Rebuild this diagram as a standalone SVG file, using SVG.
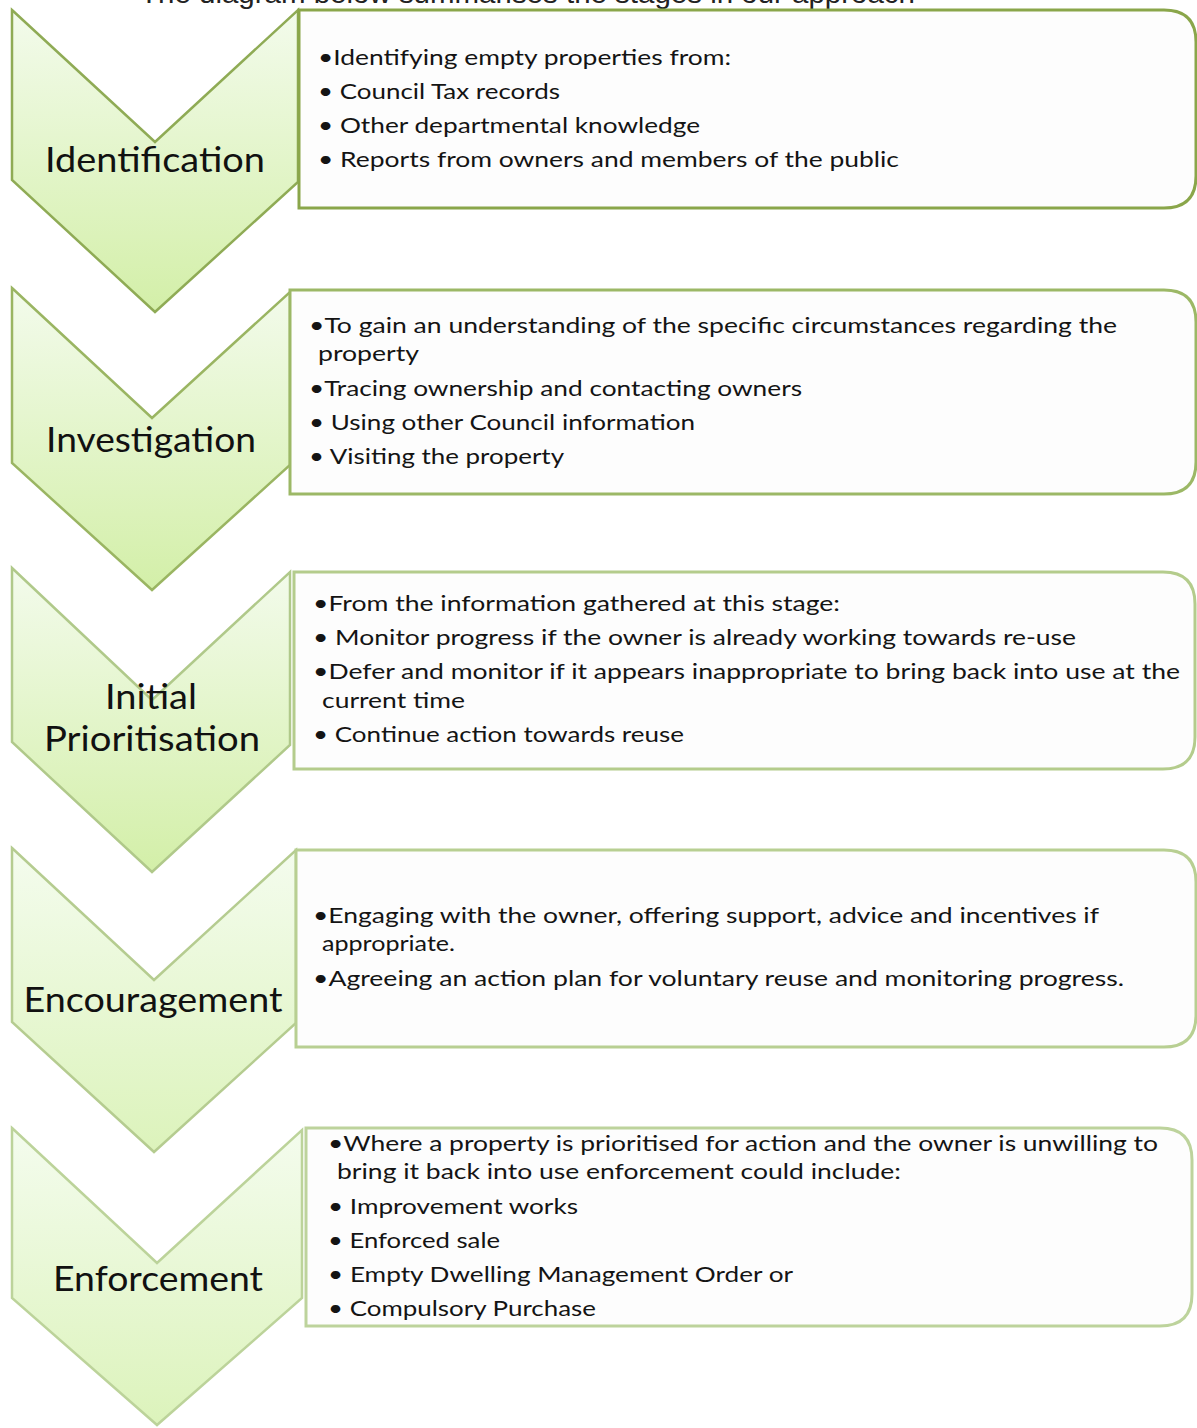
<svg xmlns="http://www.w3.org/2000/svg" width="1197" height="1428" viewBox="0 0 1197 1428">
<defs>
<linearGradient id="gA" x1="0" y1="0" x2="0" y2="1">
<stop offset="0" stop-color="#f3fbec"/>
<stop offset="1" stop-color="#d3efa8"/>
</linearGradient>
<linearGradient id="gB" x1="0" y1="0" x2="0" y2="1">
<stop offset="0" stop-color="#f4fcee"/>
<stop offset="1" stop-color="#dcf3bb"/>
</linearGradient>
<style>
.lbl{font-family:Lato,"Open Sans",sans-serif;font-size:35px;fill:#111;text-anchor:middle}
.t{font-family:Lato,"Open Sans",sans-serif;font-size:22px;fill:#141414}
.box{fill:#fdfdfd;stroke-width:3}
.chev{stroke-width:2.5;stroke-linejoin:miter}
.top{font-family:"Liberation Sans",Arial,sans-serif;font-size:27px;fill:#222}
</style>
</defs>
<rect width="1197" height="1428" fill="#ffffff"/>
<text class="top" x="140" y="3" textLength="775" lengthAdjust="spacingAndGlyphs">The diagram below summarises the stages in our approach</text>

<g id="identification">
<path class="chev" d="M12 10 L155 142 L298 10 L298 182 L155 312 L12 180 Z" fill="url(#gA)" stroke="#8fab55"/>
<text class="lbl" x="155" y="172" textLength="220" lengthAdjust="spacingAndGlyphs">Identification</text>
<path class="box" d="M299 10 H1164 Q1196 10 1196 42 V176 Q1196 208 1164 208 H299 Z" stroke="#8aa64a"/>
<text class="t" x="318" y="65" textLength="413" lengthAdjust="spacingAndGlyphs">•Identifying empty properties from:</text>
<text class="t" x="318" y="99" textLength="242" lengthAdjust="spacingAndGlyphs">• Council Tax records</text>
<text class="t" x="318" y="133" textLength="382" lengthAdjust="spacingAndGlyphs">• Other departmental knowledge</text>
<text class="t" x="318" y="167" textLength="581" lengthAdjust="spacingAndGlyphs">• Reports from owners and members of the public</text>
</g>

<g id="investigation">
<path class="chev" d="M12 288 L152 418 L290 292 L290 465 L152 590 L12 463 Z" fill="url(#gA)" stroke="#9ab562"/>
<text class="lbl" x="151" y="452" textLength="210" lengthAdjust="spacingAndGlyphs">Investigation</text>
<path class="box" d="M290 290 H1164 Q1196 290 1196 322 V462 Q1196 494 1164 494 H290 Z" stroke="#9cb866"/>
<text class="t" x="309" y="333" textLength="808" lengthAdjust="spacingAndGlyphs">•To gain an understanding of the specific circumstances regarding the</text>
<text class="t" x="318" y="361" textLength="101" lengthAdjust="spacingAndGlyphs">property</text>
<text class="t" x="309" y="396" textLength="493" lengthAdjust="spacingAndGlyphs">•Tracing ownership and contacting owners</text>
<text class="t" x="309" y="430" textLength="386" lengthAdjust="spacingAndGlyphs">• Using other Council information</text>
<text class="t" x="309" y="464" textLength="255" lengthAdjust="spacingAndGlyphs">• Visiting the property</text>
</g>

<g id="initial-prioritisation">
<path class="chev" d="M12 568 L152 700 L290 572 L290 745 L152 872 L12 742 Z" fill="url(#gA)" stroke="#b0c98a"/>
<text class="lbl" x="151" y="709" textLength="92" lengthAdjust="spacingAndGlyphs">Initial</text>
<text class="lbl" x="152" y="751" textLength="216" lengthAdjust="spacingAndGlyphs">Prioritisation</text>
<path class="box" d="M294 572 H1163 Q1195 572 1195 604 V737 Q1195 769 1163 769 H294 Z" stroke="#b4cc8c"/>
<text class="t" x="313" y="611" textLength="527" lengthAdjust="spacingAndGlyphs">•From the information gathered at this stage:</text>
<text class="t" x="313" y="645" textLength="763" lengthAdjust="spacingAndGlyphs">• Monitor progress if the owner is already working towards re-use</text>
<text class="t" x="313" y="679" textLength="867" lengthAdjust="spacingAndGlyphs">•Defer and monitor if it appears inappropriate to bring back into use at the</text>
<text class="t" x="322" y="708" textLength="143" lengthAdjust="spacingAndGlyphs">current time</text>
<text class="t" x="313" y="742" textLength="371" lengthAdjust="spacingAndGlyphs">• Continue action towards reuse</text>
</g>

<g id="encouragement">
<path class="chev" d="M12 848 L154 980 L296 850 L296 1023 L154 1152 L12 1022 Z" fill="url(#gB)" stroke="#b5cc90"/>
<text class="lbl" x="153" y="1012" textLength="259" lengthAdjust="spacingAndGlyphs">Encouragement</text>
<path class="box" d="M296 850 H1164 Q1196 850 1196 882 V1015 Q1196 1047 1164 1047 H296 Z" stroke="#b8cf92"/>
<text class="t" x="313" y="923" textLength="786" lengthAdjust="spacingAndGlyphs">•Engaging with the owner, offering support, advice and incentives if</text>
<text class="t" x="322" y="951" textLength="133" lengthAdjust="spacingAndGlyphs">appropriate.</text>
<text class="t" x="313" y="986" textLength="811" lengthAdjust="spacingAndGlyphs">•Agreeing an action plan for voluntary reuse and monitoring progress.</text>
</g>

<g id="enforcement">
<path class="chev" d="M12 1128 L157 1263 L302 1130 L302 1298 L157 1425 L12 1298 Z" fill="url(#gB)" stroke="#bcd39a"/>
<text class="lbl" x="158" y="1291" textLength="210" lengthAdjust="spacingAndGlyphs">Enforcement</text>
<path class="box" d="M306 1128 H1160 Q1192 1128 1192 1160 V1294 Q1192 1326 1160 1326 H306 Z" stroke="#bdd39c"/>
<text class="t" x="328" y="1151" textLength="830" lengthAdjust="spacingAndGlyphs">•Where a property is prioritised for action and the owner is unwilling to</text>
<text class="t" x="337" y="1179" textLength="564" lengthAdjust="spacingAndGlyphs">bring it back into use enforcement could include:</text>
<text class="t" x="328" y="1214" textLength="250" lengthAdjust="spacingAndGlyphs">• Improvement works</text>
<text class="t" x="328" y="1248" textLength="172" lengthAdjust="spacingAndGlyphs">• Enforced sale</text>
<text class="t" x="328" y="1282" textLength="465" lengthAdjust="spacingAndGlyphs">• Empty Dwelling Management Order or</text>
<text class="t" x="328" y="1316" textLength="268" lengthAdjust="spacingAndGlyphs">• Compulsory Purchase</text>
</g>

<g id="connectors"></g>
</svg>
